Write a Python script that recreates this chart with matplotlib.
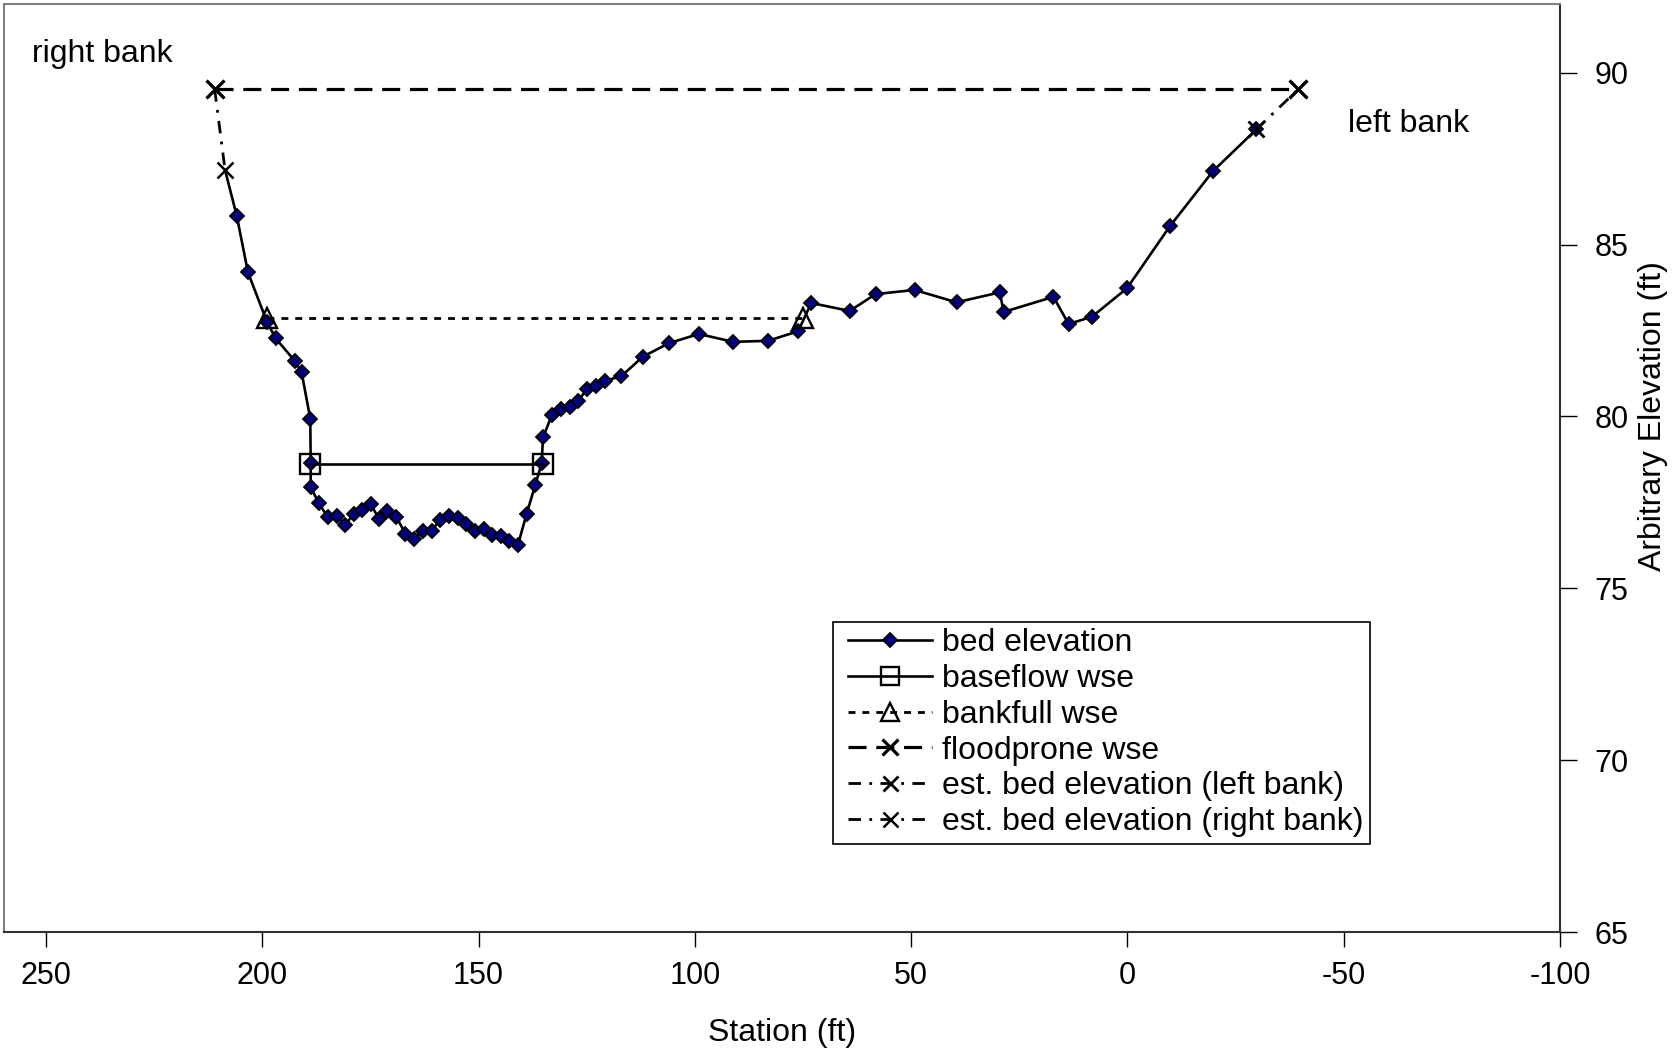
import matplotlib
matplotlib.use("Agg")
import matplotlib.pyplot as plt
from matplotlib.legend_handler import HandlerLine2D

plt.rcParams['font.family'] = ['Liberation Sans', 'DejaVu Sans']
plt.rcParams['lines.scale_dashes'] = False

# ---- data ----
bed_station = [208.6, 205.9, 203.3, 198.9, 196.9, 192.5, 190.9, 188.9, 188.8, 188.8,
               186.9, 184.9, 182.8, 180.8, 178.8, 176.9, 174.9, 173.0, 171.1, 169.0,
               166.9, 165.0, 162.9, 160.8, 159.0, 156.9, 154.7, 152.8, 150.9, 148.8,
               146.9, 144.9, 142.9, 140.9, 138.9, 136.9, 135.4, 135.1, 133.0, 131.0,
               128.9, 127.0, 124.9, 122.8, 120.7, 117.0, 112.0, 106.0, 99.1, 91.1,
               83.1, 76.1, 73.1, 64.2, 58.2, 49.2, 39.5, 29.5, 28.6, 17.1,
               13.6, 8.2, 0.1, -9.8, -19.8, -29.8]
bed_elev = [87.17, 85.84, 84.19, 82.75, 82.27, 81.62, 81.28, 79.94, 78.64, 77.94,
            77.47, 77.08, 77.10, 76.85, 77.17, 77.28, 77.44, 77.02, 77.25, 77.08,
            76.58, 76.43, 76.67, 76.67, 76.99, 77.11, 77.04, 76.87, 76.67, 76.73,
            76.55, 76.52, 76.38, 76.26, 77.16, 78.00, 78.64, 79.39, 80.05, 80.21,
            80.27, 80.46, 80.79, 80.88, 81.04, 81.17, 81.74, 82.13, 82.40, 82.17,
            82.20, 82.48, 83.30, 83.07, 83.56, 83.68, 83.32, 83.61, 83.04, 83.48,
            82.69, 82.90, 83.73, 85.53, 87.14, 88.35]

baseflow_station = [188.9, 135.2]
baseflow_elev = [78.63, 78.63]

bankfull_station = [198.9, 75.0]
bankfull_elev = [82.85, 82.85]

floodprone_station = [211.0, -39.5]
floodprone_elev = [89.52, 89.52]

left_est_station = [-29.8, -39.5]
left_est_elev = [88.35, 89.52]

right_est_station = [211.0, 208.6]
right_est_elev = [89.52, 87.17]

x_ticks = [250, 200, 150, 100, 50, 0, -50, -100]
y_ticks = [65, 70, 75, 80, 85, 90]


class ShiftedHandler(HandlerLine2D):
    shift = 6.0  # points

    def create_artists(self, legend, orig_handle, xdescent, ydescent, width,
                       height, fontsize, trans):
        return super().create_artists(legend, orig_handle, xdescent - self.shift,
                                      ydescent, width - self.shift, height,
                                      fontsize, trans)


# ---- figure ----
fig = plt.figure(figsize=(16.72, 10.48), dpi=100)
ax = fig.add_axes([4/1672, 1-932/1048, (1560-4)/1672, (932-4)/1048])

ax.plot(bed_station, bed_elev, color='black', lw=1.9, marker='D', ms=7.5,
        mfc='#000080', mec='black', mew=1.3, markevery=list(range(1, len(bed_station))),
        label='bed elevation', zorder=3)
ax.plot(baseflow_station, baseflow_elev, color='black', lw=1.9, marker='s', ms=14,
        mfc='none', mec='black', mew=1.7, label='baseflow wse', zorder=4)
ax.plot(bankfull_station, bankfull_elev, color='black', lw=2.0, dashes=(5, 5),
        marker='^', ms=15, mfc='none', mec='black', mew=1.7, label='bankfull wse', zorder=4)
ax.plot(floodprone_station, floodprone_elev, color='black', lw=2.3, dashes=(13, 7),
        marker='x', ms=13, mec='black', mew=2.3, label='floodprone wse', zorder=4)
ax.plot(left_est_station, left_est_elev, color='black', lw=2.0, dashes=(9, 6, 2, 6),
        marker='x', ms=12, mec='black', mew=2.0, label='est. bed elevation (left bank)', zorder=5)
ax.plot(right_est_station, right_est_elev, color='black', lw=2.0, dashes=(9, 6, 2, 6),
        marker='x', ms=12, mec='black', mew=1.8, label='est. bed elevation (right bank)', zorder=5)

ax.set_xlim(259.7, -100)
ax.set_ylim(65, 92)
ax.set_xticks(x_ticks)
ax.set_xticklabels([str(v) for v in x_ticks])
ax.set_yticks(y_ticks)
ax.set_yticklabels([str(v) for v in y_ticks])

ax.yaxis.tick_right()
ax.yaxis.set_label_position('right')
ax.tick_params(axis='x', direction='out', length=11, width=1.0, pad=10, labelsize=22)
ax.tick_params(axis='y', direction='out', length=12, width=1.0, pad=13, labelsize=22)

for s in ['left', 'top']:
    ax.spines[s].set_color('#808080')
    ax.spines[s].set_linewidth(1.5)
for s in ['right', 'bottom']:
    ax.spines[s].set_color('#303030')
    ax.spines[s].set_linewidth(1.5)

ax.set_xlabel('Station (ft)', fontsize=23)
ax.xaxis.label.set_va('center')
ax.xaxis.set_label_coords(0.4998, -0.109)
ax.set_ylabel('Arbitrary Elevation (ft)', fontsize=23)
ax.yaxis.label.set_va('center')
ax.yaxis.set_label_coords(1.060, 0.556)

fig.text(32/1672, 1-54/1048, 'right bank', fontsize=23, ha='left', va='center')
fig.text(1348/1672, 1-124/1048, 'left bank', fontsize=23, ha='left', va='center')

leg = ax.legend(loc='upper left', bbox_to_anchor=(833/1672, 1-622/1048),
                bbox_transform=fig.transFigure, fontsize=23, frameon=True,
                fancybox=False, edgecolor='black', framealpha=1, labelspacing=0.18,
                borderpad=0.2, handlelength=2.9, handletextpad=0.3, borderaxespad=0,
                markerscale=0.9, handler_map={matplotlib.lines.Line2D: ShiftedHandler()})
leg.get_frame().set_linewidth(1.2)

fig.savefig('out.png', dpi=100)
